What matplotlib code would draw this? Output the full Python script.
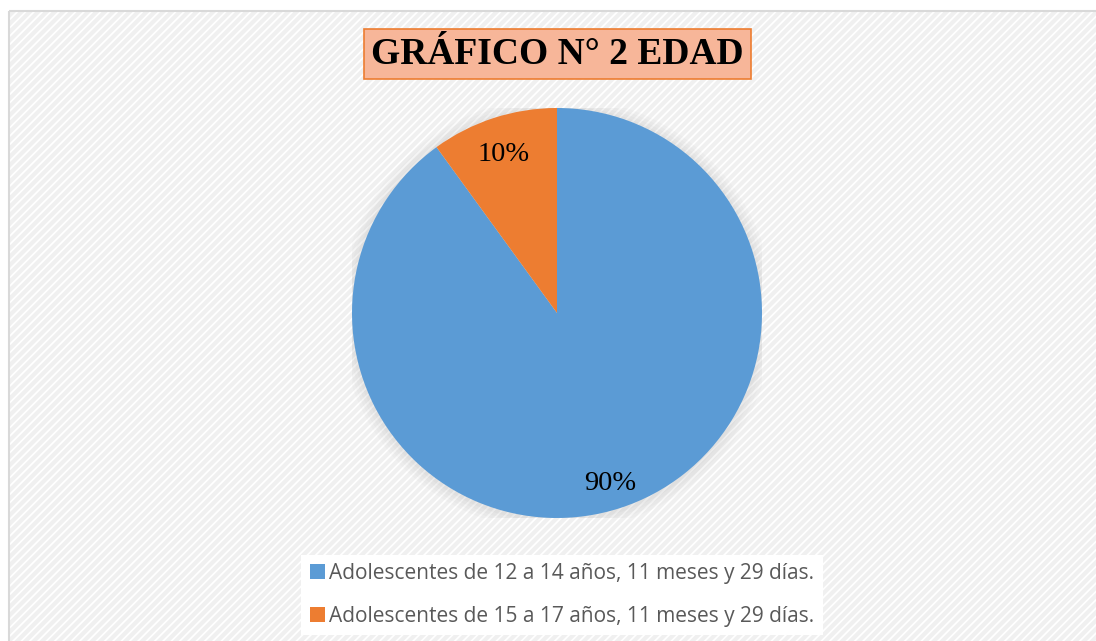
import matplotlib.pyplot as plt
from matplotlib.patches import Rectangle, Circle
from matplotlib.transforms import ScaledTranslation

# datos del grafico
etiquetas = ["Adolescentes de 12 a 14 años, 11 meses y 29 días.",
             "Adolescentes de 15 a 17 años, 11 meses y 29 días."]
porcentajes = [90, 10]
colores = ["#5b9bd5", "#ed7d31"]
titulo = "GRÁFICO N° 2 EDAD"

plt.rcParams['hatch.linewidth'] = 3.0
plt.rcParams['hatch.color'] = "#f0f0f0"

W, H = 1096, 641
fig = plt.figure(figsize=(W / 100, H / 100), dpi=100)

# fondo con rayas diagonales y marco gris
bg = fig.add_axes([0, 0, 1, 1])
bg.set_xlim(0, W)
bg.set_ylim(H, 0)
bg.axis('off')
bg.add_patch(Rectangle((9, 11), W, H, facecolor="white", edgecolor="none"))
bg.add_patch(Rectangle((9, 11), W, H, facecolor="none", edgecolor="#f0f0f0",
                       hatch="////", linewidth=0))
bg.add_patch(Rectangle((9, 11), W, H, facecolor="none", edgecolor="#d9d9d9",
                       linewidth=1.5))

# pastel
cx, cy, r = 557, 313, 205
ax = fig.add_axes([(cx - r) / W, (H - cy - r) / H, 2 * r / W, 2 * r / H])
# sombra suave alrededor del pastel
for k, a in zip([1.06, 1.045, 1.03, 1.015], [0.05, 0.06, 0.07, 0.08]):
    ax.add_patch(Circle((0, -0.005), k, facecolor="#b0b0b0", edgecolor="none", alpha=a))
wedges, textos, autotextos = ax.pie(
    porcentajes, colors=colores, startangle=90, counterclock=False,
    autopct="%d%%", pctdistance=0.845,
    textprops=dict(family="Liberation Serif", fontsize=20.5, color="black"))
desplaza = ScaledTranslation(0, -0.06, fig.dpi_scale_trans)
for t in autotextos:
    t.set_transform(t.get_transform() + desplaza)
ax.set_xlim(-1, 1)
ax.set_ylim(-1, 1)
ax.set_aspect('equal')

# titulo en caja naranja
fig.text((364 + 751) / 2 / W, 1 - 54 / H, titulo, ha="center", va="center",
         family="Liberation Serif", fontweight="bold", fontsize=27, color="black",
         bbox=dict(boxstyle="square,pad=0.2", facecolor="#f7b699",
                   edgecolor="#ed7d31", linewidth=1.2))

# leyenda
leg = fig.legend(wedges, etiquetas, loc="center", ncol=1,
                 bbox_to_anchor=(562 / W, 1 - 595 / H),
                 prop=dict(family="Open Sans", size=15),
                 handlelength=0.75, handleheight=0.75, handletextpad=0.2,
                 labelspacing=1.05, frameon=True, fancybox=False,
                 borderpad=0.4)
leg.get_frame().set_facecolor("white")
leg.get_frame().set_edgecolor("none")
leg.get_frame().set_alpha(1)
for t in leg.get_texts():
    t.set_color("#595959")

fig.savefig("out.png", dpi=100)
